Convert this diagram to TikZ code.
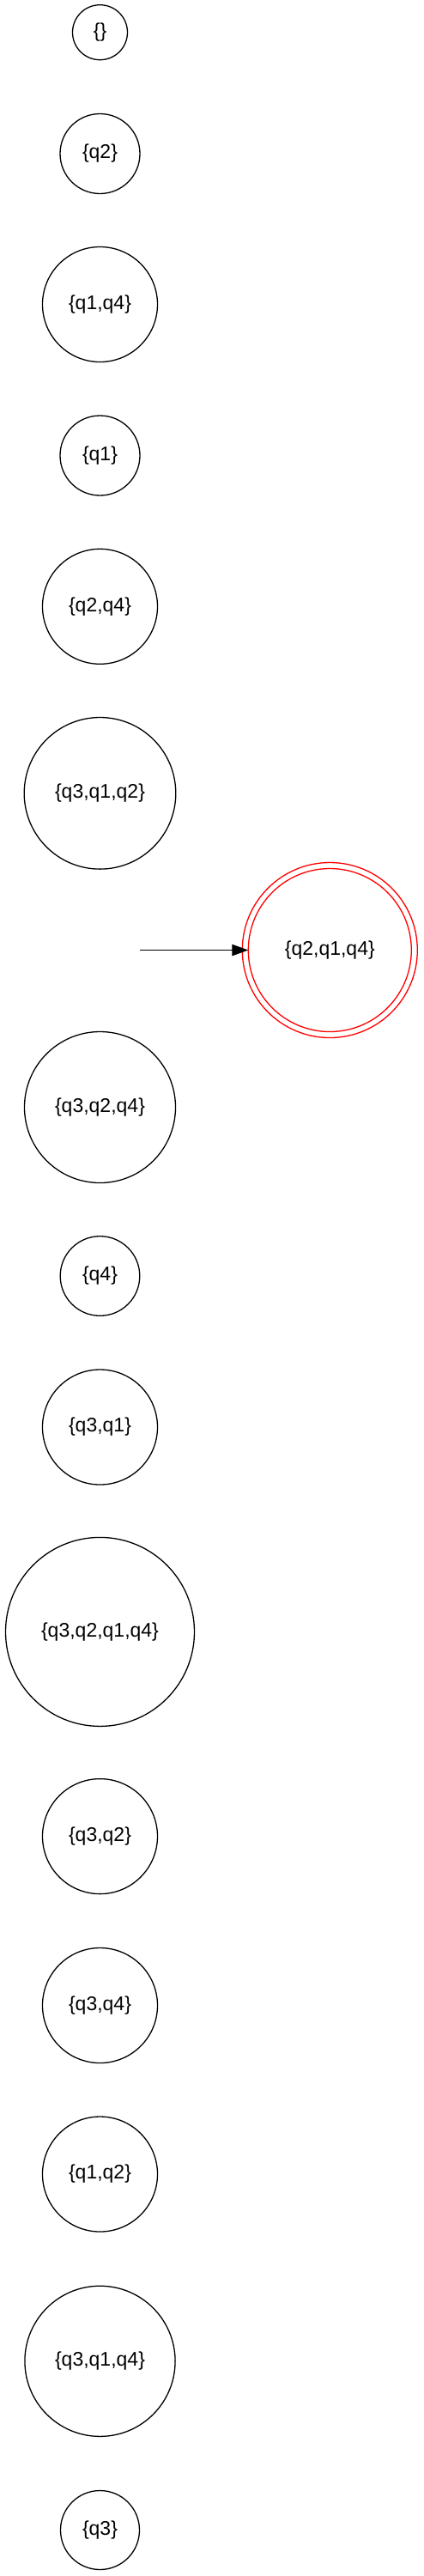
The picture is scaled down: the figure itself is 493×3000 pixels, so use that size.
\documentclass[tikz,border=0pt]{standalone}
\usepackage{fontspec}
\setmainfont{Liberation Sans}
\usetikzlibrary{arrows.meta}
\begin{document}
\begin{tikzpicture}[x=0.5pt,y=-0.5pt,
  st/.style={draw=black,circle,line width=0.65pt,inner sep=0pt,outer sep=0pt,
    font=\fontsize{11.5}{13}\selectfont},
  acc/.style={st,draw=red},
  initarrow/.style={-{Triangle[length=9.5pt,width=6.7pt]},line width=0.65pt}]
\useasboundingbox (0,0) rectangle (493,3000);
\node[st,minimum size=32pt] (s0) at (116.5,37.7) {\{\}};
\node[st,minimum size=46.5pt] (s1) at (116.5,179) {\{q2\}};
\node[st,minimum size=67pt] (s2) at (116.5,354.5) {\{q1,q4\}};
\node[st,minimum size=46.5pt] (s3) at (116.5,530.5) {\{q1\}};
\node[st,minimum size=67pt] (s4) at (116.5,706.3) {\{q2,q4\}};
\node[st,minimum size=88.3pt] (s5) at (116.5,923.8) {\{q3,q1,q2\}};
\node[acc,minimum size=95pt] (s6) at (384.3,1106.5) {\{q2,q1,q4\}};
\draw[red,line width=0.65pt] (s6.center) circle[radius=102];
\coordinate (start) at (163.3,1106.5);
\draw[initarrow] (start) -- (s6.west);
\node[st,minimum size=88pt] (s7) at (116.5,1289.5) {\{q3,q2,q4\}};
\node[st,minimum size=46.3pt] (s8) at (116.5,1486) {\{q4\}};
\node[st,minimum size=67pt] (s9) at (116.5,1662) {\{q3,q1\}};
\node[st,minimum size=110pt] (s10) at (116.5,1900.4) {\{q3,q2,q1,q4\}};
\node[st,minimum size=67pt] (s11) at (116.5,2138.6) {\{q3,q2\}};
\node[st,minimum size=67pt] (s12) at (116.5,2335.5) {\{q3,q4\}};
\node[st,minimum size=67pt] (s13) at (116.5,2532) {\{q1,q2\}};
\node[st,minimum size=87.6pt] (s14) at (116.5,2749.8) {\{q3,q1,q4\}};
\node[st,minimum size=46pt] (s15) at (116.5,2946.5) {\{q3\}};
\end{tikzpicture}
\end{document}
